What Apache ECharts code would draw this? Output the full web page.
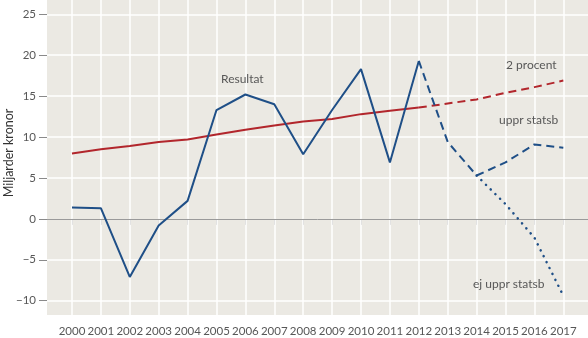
<!DOCTYPE html>
<html>
<head>
<meta charset="utf-8">
<script src="https://cdn.jsdelivr.net/npm/echarts@6/dist/echarts.min.js"></script>
<style>
html,body{margin:0;padding:0;background:#fff;}
#chart{width:588px;height:338px;}
</style>
</head>
<body>
<div id="chart"></div>
<script>
// ---- data ----
var years = [2000,2001,2002,2003,2004,2005,2006,2007,2008,2009,2010,2011,2012,2013,2014,2015,2016,2017];
var yTicks = [-10,-5,0,5,10,15,20,25];
var resultat      = [1.4,1.3,-7.1,-0.8,2.2,13.3,15.2,14.0,7.9,13.3,18.3,6.9,19.3,null,null,null,null,null];
var upprStatsb    = [null,null,null,null,null,null,null,null,null,null,null,null,19.3,9.4,5.3,6.9,9.1,8.7];
var ejUpprStatsb  = [null,null,null,null,null,null,null,null,null,null,null,null,null,null,5.3,1.8,-2.3,-9.4];
var procent       = [8.0,8.5,8.9,9.4,9.7,10.3,10.9,11.4,11.9,12.2,12.8,13.2,13.6,null,null,null,null,null];
var procentProg   = [null,null,null,null,null,null,null,null,null,null,null,null,13.6,14.1,14.6,15.4,16.1,16.9];

function pairs(vals){
  var out=[];
  for(var i=0;i<years.length;i++){ if(vals[i]!==null) out.push([years[i], vals[i]]); }
  return out;
}

var BLUE = '#1f4f87';
var RED = '#b2262c';
var TXT = '#575757';
var FONT = 'Lato';
var X_MIN = 1999.136, X_MAX = 2017.854, Y_MIN = -11.75, Y_MAX = 26.75;

var gridLines = [];
years.forEach(function(y){ gridLines.push({xAxis:y}); });
yTicks.forEach(function(v){ if(v!==0) gridLines.push({yAxis:v}); });

var chart = echarts.init(document.getElementById('chart'), null, {renderer:'canvas'});
chart.setOption({
  animation:false,
  backgroundColor:'#ffffff',
  grid:{left:47,right:0,top:0,bottom:23,show:true,backgroundColor:'#ebe9e3',borderWidth:0,
        outerBoundsMode:'none', containLabel:false},
  xAxis:{
    type:'value', min:X_MIN, max:X_MAX,
    axisLine:{show:false},
    axisTick:{show:true, customValues:years, length:6, lineStyle:{color:'#8a8a8a',width:1}},
    axisLabel:{customValues:years, color:TXT, fontFamily:FONT, fontSize:11.5, margin:10, formatter:function(v){return String(v);}},
    splitLine:{show:false}
  },
  yAxis:{
    type:'value', min:Y_MIN, max:Y_MAX,
    axisLine:{show:false},
    axisTick:{show:true, customValues:yTicks, length:8, lineStyle:{color:'#8a8a8a',width:1}},
    axisLabel:{customValues:yTicks, color:TXT, fontFamily:FONT, fontSize:11.5, margin:11,
      formatter:function(v){return v<0 ? '\u2212'+Math.abs(v) : String(v);}},
    splitLine:{show:false}
  },
  series:[
    {type:'line', data:[], symbol:'none', silent:true, z:1,
      markLine:{silent:true, symbol:'none', label:{show:false}, animation:false,
        lineStyle:{color:'#ffffff', width:1.5, type:'solid'}, data:gridLines}},
    {type:'line', data:[], symbol:'none', silent:true, z:2,
      markLine:{silent:true, symbol:'none', label:{show:false}, animation:false,
        lineStyle:{color:'#9a9a9a', width:1, type:'solid'}, data:[{yAxis:0}]}},
    {type:'line', z:5, data:pairs(procent), symbol:'none', lineStyle:{color:RED,width:2}},
    {type:'line', z:5, data:pairs(procentProg), symbol:'none', lineStyle:{color:RED,width:2,type:[8,5]}},
    {type:'line', z:5, data:pairs(ejUpprStatsb), symbol:'none', lineStyle:{color:BLUE,width:2.5,type:[0.1,6.5],cap:'round'}},
    {type:'line', z:5, data:pairs(upprStatsb), symbol:'none', lineStyle:{color:BLUE,width:2,type:[8,5]}},
    {type:'line', z:6, data:pairs(resultat), symbol:'none', lineStyle:{color:BLUE,width:2}}
  ],
  graphic:[
    {type:'text', x:9, y:153, rotation:Math.PI/2, z:100,
      style:{text:'Miljarder kronor', fill:'#333333', font:'12.5px Lato', align:'center', verticalAlign:'middle'}},
    {type:'text', left:221, top:73, z:100, style:{text:'Resultat', fill:TXT, font:'12px Lato'}},
    {type:'text', left:506, top:59, z:100, style:{text:'2 procent', fill:TXT, font:'12px Lato'}},
    {type:'text', left:499, top:114, z:100, style:{text:'uppr statsb', fill:TXT, font:'12px Lato'}},
    {type:'text', left:473, top:278, z:100, style:{text:'ej uppr statsb', fill:TXT, font:'12px Lato'}}
  ]
});
</script>
</body>
</html>
